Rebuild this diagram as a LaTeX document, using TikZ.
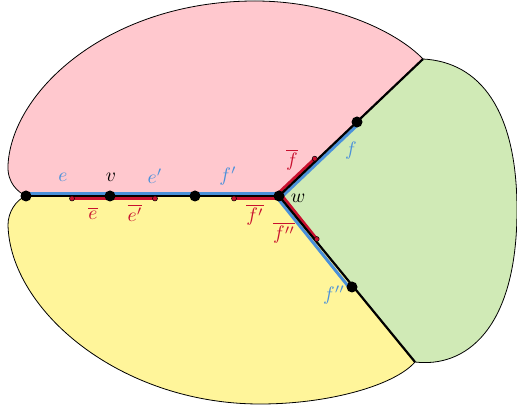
\documentclass[tikz,border=0pt]{standalone}
\usetikzlibrary{calc}
\definecolor{pinkf}{HTML}{FFC8CE}
\definecolor{yellowf}{HTML}{FFF59A}
\definecolor{greenf}{HTML}{D0EAB6}
\definecolor{myblue}{HTML}{4A90DA}
\definecolor{myred}{HTML}{C8102E}
\newcommand{\mylbl}[1]{\scalebox{1.95}{$#1$}}
\begin{document}
\begin{tikzpicture}[x=1pt,y=-1pt,
  vtx/.style={circle,fill=black,inner sep=0pt,minimum size=11pt},
  rdot/.style={circle,fill=myred,draw=black,line width=0.5pt,inner sep=0pt,minimum size=5pt},
  bl/.style={line width=3pt,color=myblue},
  rl/.style={line width=3pt,color=myred},
  edgeline/.style={line width=2.2pt,black},
  region/.style={draw=black,line width=0.8pt},
  lab/.style={inner sep=0pt}]
\useasboundingbox (0,0) rectangle (517,411);
\coordinate (A) at (26,196);
\coordinate (v) at (110,196);
\coordinate (B) at (195,196);
\coordinate (w) at (279,196);
\coordinate (C) at (357,122);
\coordinate (D) at (352,287);
\coordinate (TR) at (423,59);
\coordinate (BR) at (415,362);
\coordinate (r1) at (72,196);
\coordinate (r2) at (155,196);
\coordinate (r3) at (234,196);
\coordinate (r4) at ($(w)!0.48!(C)$);
\coordinate (r5) at ($(w)!0.49!(D)$);
% regions
\filldraw[region,fill=pinkf] (A) .. controls (18,192) and (7,183) .. (8,165)
  .. controls (12,90) and (110,1) .. (255,1)
  .. controls (330,1) and (395,30) .. (TR) -- (w) -- cycle;
\filldraw[region,fill=yellowf] (A) .. controls (16,200) and (8,212) .. (8,225)
  .. controls (10,310) and (120,404) .. (260,404)
  .. controls (330,404) and (395,385) .. (BR) -- (w) -- cycle;
\filldraw[region,fill=greenf] (TR) .. controls (480,62) and (517,110) .. (517,210)
  .. controls (517,330) and (465,368) .. (BR) -- (w) -- cycle;
% blue path
\draw[bl,transform canvas={shift={(0pt,2.5pt)}}] (A) -- (w);
\draw[bl,transform canvas={shift={(1.72pt,-1.81pt)}}] (w) -- (C);
\draw[bl,transform canvas={shift={(-1.95pt,-1.57pt)}}] (w) -- (D);
% red path
\draw[rl,transform canvas={shift={(0pt,-2.5pt)}}] (r1) -- (r2);
\draw[rl,transform canvas={shift={(0pt,-2.5pt)}}] (r3) -- (w);
\draw[rl,transform canvas={shift={(-1.72pt,1.81pt)}}] (w) -- (r4);
\draw[rl,transform canvas={shift={(1.95pt,1.57pt)}}] (w) -- (r5);
% black edges
\draw[edgeline] (A) -- (w);
\draw[edgeline] (TR) -- (w) -- (BR);
% vertices
\foreach \p in {A,v,B,w,C,D} \node[vtx] (dot\p) at (\p) {};
% red dots
\begin{scope}[transform canvas={shift={(0pt,-2.5pt)}}]
\node[rdot] (d1) at (r1) {};
\node[rdot] (d2) at (r2) {};
\node[rdot] (d3) at (r3) {};
\end{scope}
\begin{scope}[transform canvas={shift={(-1.72pt,1.81pt)}}]
\node[rdot] (d4) at (r4) {};
\end{scope}
\begin{scope}[transform canvas={shift={(1.95pt,1.57pt)}}]
\node[rdot] (d5) at (r5) {};
\end{scope}
% labels
\node[lab,text=myblue] (le) at (63,177) {\mylbl{e}};
\node[lab] (lv) at (111,177) {\mylbl{v}};
\node[lab,text=myblue] (lep) at (155,176) {\mylbl{e'}};
\node[lab,text=myblue] (lfp) at (228,176) {\mylbl{f'}};
\node[lab,text=myred] (leb) at (93,213) {\mylbl{\overline{e}}};
\node[lab,text=myred] (lepb) at (135,213) {\mylbl{\overline{e'}}};
\node[lab,text=myred] (lfpb) at (255,215) {\mylbl{\overline{f'}}};
\node[lab,text=myred] (lfb) at (292,160) {\mylbl{\overline{f}}};
\node[lab,text=myblue] (lf) at (351,151) {\mylbl{f}};
\node[lab] (lw) at (298,198) {\mylbl{w}};
\node[lab,text=myred] (lfppb) at (284,233) {\mylbl{\overline{f''}}};
\node[lab,text=myblue] (lfpp) at (334,295) {\mylbl{f''}};
\end{tikzpicture}
\end{document}
